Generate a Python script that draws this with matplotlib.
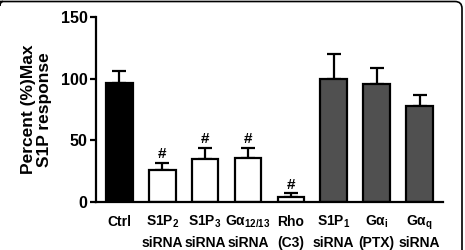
import numpy as np
import matplotlib
matplotlib.use('Agg')
import matplotlib.pyplot as plt
from matplotlib.path import Path
from matplotlib.patches import PathPatch

plt.rcParams['font.family'] = ['Liberation Sans', 'DejaVu Sans']
plt.rcParams['font.weight'] = 'bold'
plt.rcParams['mathtext.fontset'] = 'custom'
plt.rcParams['mathtext.rm'] = 'Liberation Sans:bold'
plt.rcParams['mathtext.bf'] = 'Liberation Sans:bold'
plt.rcParams['mathtext.it'] = 'Liberation Sans:bold'
plt.rcParams['mathtext.default'] = 'rm'

top_labels = ['Ctrl', 'S1P$_2$', 'S1P$_3$', r'G$\alpha_{12/13}$', 'Rho', 'S1P$_1$',
              r'G$\alpha_i$', r'G$\alpha_q$']
bottom_labels = ['', 'siRNA', 'siRNA', 'siRNA', '(C3)', 'siRNA', '(PTX)', 'siRNA']
means = [96.5, 26, 35, 36, 4, 100, 96, 78]
errs = [9.5, 6, 9, 8, 3, 20, 13, 9]
colors = ['black', 'white', 'white', 'white', 'white', '#505050', '#505050', '#505050']
signif = [False, True, True, True, True, False, False, False]

fig = plt.figure(figsize=(4.65, 2.5), dpi=100)

# rounded frame (top and right edges only are visible in the source crop)
bg = fig.add_axes([0, 0, 1, 1], zorder=-1)
bg.set_xlim(0, 465)
bg.set_ylim(250, 0)
bg.axis('off')
frame = Path([(-5, 1.5), (455, 1.5), (462, 1.5), (462, 8.5), (462, 260)],
             [Path.MOVETO, Path.LINETO, Path.CURVE3, Path.CURVE3, Path.LINETO])
bg.add_patch(PathPatch(frame, fill=False, edgecolor='black', linewidth=1.2))
bg.add_patch(PathPatch(Path([(0, 6), (0, 1.5), (3, 1.5)], [Path.MOVETO, Path.CURVE3, Path.CURVE3]),
                       fill=False, edgecolor='black', linewidth=1.2))

ax = fig.add_axes([0.206, 0.192, 0.747, 0.74])

x = np.arange(len(means))
ax.bar(x, means, width=0.62, color=colors, edgecolor='black', linewidth=1.6, zorder=2)
ax.errorbar(x, means, yerr=[np.zeros(len(errs)), errs], fmt='none', ecolor='black',
            elinewidth=1.6, capsize=5, capthick=1.6, zorder=1)
for i in range(len(means)):
    if signif[i]:
        ax.text(x[i], means[i] + errs[i] + 1.5, '#', ha='center', va='bottom',
                fontsize=11, fontweight='bold')

ax.set_ylim(0, 150)
ax.set_xlim(-0.55, 7.55)
ax.set_yticks([0, 50, 100, 150])
ax.set_xticks(x)
ax.set_xticklabels([])
ax.tick_params(axis='x', length=0)
trans = ax.get_xaxis_transform()
for i in range(len(x)):
    ax.text(x[i], -0.13, top_labels[i], transform=trans, ha='center', va='baseline',
            fontsize=10, fontweight='bold', clip_on=False)
    ax.text(x[i], -0.243, bottom_labels[i], transform=trans, ha='center', va='baseline',
            fontsize=10, fontweight='bold', clip_on=False)
ax.tick_params(axis='y', labelsize=11.5, width=1.6, length=4, pad=2)
for lbl in ax.get_yticklabels():
    lbl.set_fontweight('bold')
ax.spines['top'].set_visible(False)
ax.spines['right'].set_visible(False)
ax.spines['left'].set_linewidth(1.6)
ax.spines['bottom'].set_linewidth(1.6)
ax.patch.set_alpha(0)
ax.set_ylabel('Percent (%)Max\nS1P response', fontsize=12.5, fontweight='bold', labelpad=6,
              linespacing=1.1)

fig.savefig('out.png', dpi=100)
